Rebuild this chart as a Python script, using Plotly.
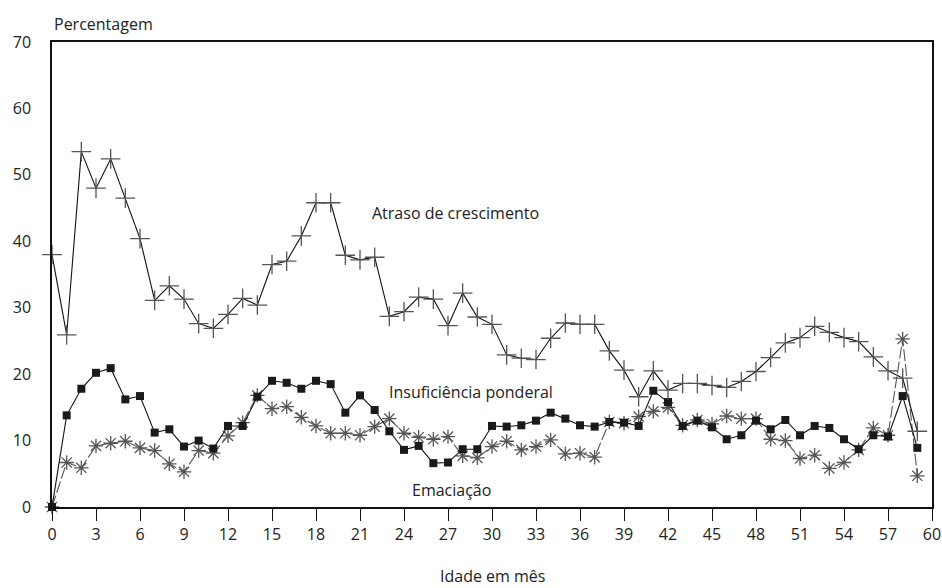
import plotly.graph_objects as go

months = list(range(0, 60))

atraso = [38.0, 25.9, 53.5, 48.0, 52.4, 46.5, 40.4, 31.1, 33.3, 31.3,
          27.6, 26.9, 29.0, 31.4, 30.4, 36.5, 37.0, 40.8, 45.8, 45.8,
          37.9, 37.2, 37.6, 28.7, 29.4, 31.6, 31.3, 27.3, 32.2, 28.6,
          27.5, 22.9, 22.4, 22.2, 25.4, 27.7, 27.5, 27.5, 23.5, 20.6,
          16.6, 20.5, 17.6, 18.6, 18.6, 18.3, 18.0, 18.9, 20.4, 22.5,
          24.7, 25.5, 27.2, 26.3, 25.5, 24.9, 22.6, 20.5, 19.4, 11.4]

insuficiencia = [0.0, 13.8, 17.8, 20.2, 20.9, 16.2, 16.7, 11.2, 11.7, 9.1,
                 10.0, 8.8, 12.2, 12.2, 16.6, 19.0, 18.7, 17.8, 19.0, 18.5,
                 14.2, 16.8, 14.6, 11.4, 8.6, 9.2, 6.6, 6.7, 8.7, 8.7,
                 12.2, 12.1, 12.3, 13.0, 14.2, 13.3, 12.3, 12.1, 12.8, 12.7,
                 12.2, 17.5, 15.8, 12.2, 13.0, 12.0, 10.2, 10.8, 13.0, 11.7,
                 13.1, 10.8, 12.2, 11.9, 10.2, 8.7, 10.8, 10.6, 16.7, 8.9]

emaciacao = [0.0, 6.7, 5.9, 9.2, 9.6, 9.9, 8.9, 8.5, 6.5, 5.3,
             8.5, 8.1, 10.7, 12.7, 16.8, 14.8, 15.1, 13.5, 12.2, 11.1,
             11.1, 10.8, 12.1, 13.3, 11.1, 10.5, 10.2, 10.6, 7.7, 7.4,
             9.1, 9.9, 8.6, 9.1, 10.1, 8.0, 8.1, 7.5, 12.8, 12.6,
             13.6, 14.4, 15.0, 12.3, 13.1, 12.5, 13.7, 13.3, 13.3, 10.2,
             10.0, 7.3, 7.8, 5.8, 6.7, 8.6, 11.9, 10.8, 25.3, 4.7]

x_ticks = list(range(0, 61, 3))
y_ticks = list(range(0, 71, 10))

FONT = "Open Sans, Lato, sans-serif"

fig = go.Figure()

fig.add_trace(go.Scatter(
    x=months, y=emaciacao, mode="lines+markers",
    line=dict(color="#555555", width=1.1, dash="12px,3px"),
    marker=dict(symbol="asterisk-open", size=12, color="#555555",
                line=dict(color="#555555", width=1.3)),
    cliponaxis=False, showlegend=False))

fig.add_trace(go.Scatter(
    x=months, y=insuficiencia, mode="lines+markers",
    line=dict(color="#111111", width=1.1),
    marker=dict(symbol="square", size=8, color="#1a1a1a"),
    cliponaxis=False, showlegend=False))

fig.add_trace(go.Scatter(
    x=months, y=atraso, mode="lines+markers",
    line=dict(color="#111111", width=1.1),
    marker=dict(symbol="cross-thin-open", size=14, color="#555555",
                line=dict(color="#555555", width=1.3)),
    cliponaxis=False, showlegend=False))

fig.update_xaxes(range=[0, 60], tickvals=x_ticks, ticks="outside", ticklen=12,
                 tickcolor="#111", tickwidth=1.2, showline=True, linecolor="#111",
                 linewidth=1.5, mirror=True, showgrid=False, zeroline=False,
                 automargin=False,
                 tickfont=dict(family=FONT, size=16, color="#222"))
fig.update_yaxes(range=[0, 70], tickvals=y_ticks, ticks="", showline=True,
                 linecolor="#111", linewidth=1.5, mirror=True, showgrid=False,
                 zeroline=False, ticklabelstandoff=16, automargin=False,
                 tickfont=dict(family=FONT, size=16, color="#222"))

W, H = 942, 588
PLOT_L, PLOT_R, PLOT_T, PLOT_B = 52, 10, 42, 81
plot_h = H - PLOT_T - PLOT_B


def py(pix):
    return (H - PLOT_B - pix) / plot_h


annotations = [
    dict(text="Percentagem", x=0, xref="paper", y=py(24), yref="paper", xanchor="left"),
    dict(text="Atraso de crescimento", x=21.7, y=44.3, xanchor="left"),
    dict(text="Insuficiência ponderal", x=22.85, y=17.3, xanchor="left"),
    dict(text="Emaciação", x=24.4, y=2.6, xanchor="left"),
    dict(text="Idade em mês", x=0.5, xref="paper", y=py(576), yref="paper", xanchor="center"),
]
ann_objs = []
for a in annotations:
    d = dict(showarrow=False, font=dict(family=FONT, size=16, color="#222"),
             yanchor="middle")
    d.update(a)
    ann_objs.append(d)

fig.update_layout(
    width=W, height=H,
    margin=dict(l=PLOT_L, r=PLOT_R, t=PLOT_T, b=PLOT_B),
    plot_bgcolor="white", paper_bgcolor="white",
    annotations=ann_objs,
)

fig.write_html(
    "out.html",
    config={"displayModeBar": False},
    post_script="document.body.style.margin='0';document.body.style.overflow='hidden';",
)
